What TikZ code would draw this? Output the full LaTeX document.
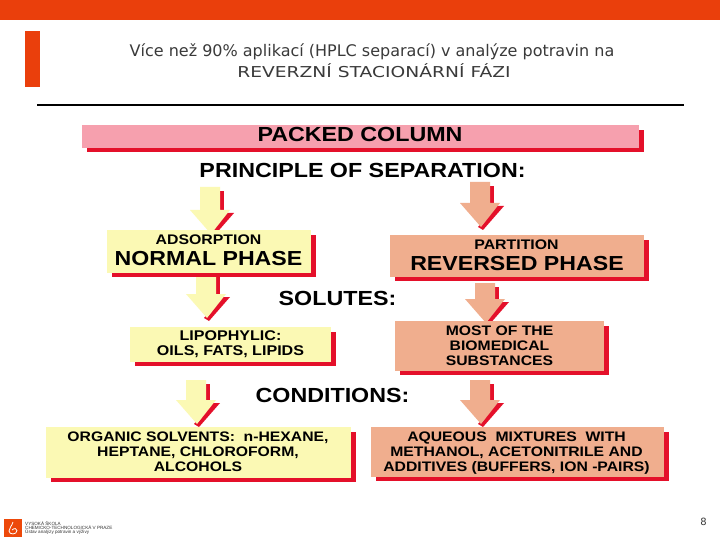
\documentclass[tikz,border=0pt]{standalone}
\usepackage{fontspec}
\setmainfont[FakeStretch=1.14]{Liberation Sans}
\newfontfamily\logofont{Liberation Sans}
\newfontfamily\headfont{DejaVu Sans}
\newfontfamily\headwide[FakeStretch=1.245]{DejaVu Sans}
\definecolor{topred}{HTML}{EA3F0C}
\definecolor{shadowred}{HTML}{E4102A}
\definecolor{pinkfill}{HTML}{F6A0AE}
\definecolor{creamfill}{HTML}{FBF9B4}
\definecolor{salmonfill}{HTML}{F0AE8E}
\definecolor{headgrey}{HTML}{3A3A3A}
\newcommand{\panelbox}[6]{% name, x0, y0, x1, y1, fill
  \fill[shadowred] (#2+5,#3+5) rectangle (#4+5,#5+4);
  \fill[#6] (#2,#3) rectangle (#4,#5);
  \coordinate (#1) at ({(#2+#4)/2},{(#3+#5)/2});
}
\newcommand{\blockarrow}[4]{% shaft left, top, shoulder, fill
  \fill[shadowred] (#1+20,#2+4) rectangle (#1+24,#3);
  \fill[shadowred] (#1+34,#3+3) -- (#1+27,#3+3) -- (#1+8,#3+24) -- (#1+13,#3+27) -- cycle;
  \fill[#4] (#1,#2) -- (#1+20,#2) -- (#1+20,#3) -- (#1+30,#3) -- (#1+11,#3+24) -- (#1-10,#3) -- (#1,#3) -- cycle;
}
\tikzset{
  headtext/.style={font=\headfont\fontsize{16}{18.5}\selectfont,text=headgrey,inner sep=0pt},
  headtextwide/.style={font=\headwide\fontsize{15}{18.5}\selectfont,text=headgrey,inner sep=0pt},
  bigtext/.style={font=\bfseries\fontsize{20.4}{20}\selectfont,inner sep=0pt},
  phasetext/.style={font=\bfseries\fontsize{20.3}{20}\selectfont,inner sep=0pt},
  midtext/.style={font=\bfseries\fontsize{13.8}{15}\selectfont,inner sep=0pt,align=center},
  smalltext/.style={font=\bfseries\fontsize{13.9}{13.2}\selectfont,inner sep=0pt}
}
\begin{document}
\begin{tikzpicture}[x=1pt,y=-1pt]
\useasboundingbox (0,0) rectangle (720,540);
\fill[white] (0,0) rectangle (720,540);
\fill[topred] (0,0) rectangle (720,20);
\fill[topred] (25,31) rectangle (40,87);
\draw[black,line width=2pt] (37,105) -- (684,105);
\node[headtext] (head) at (372,52) {Více než 90\% aplikací (HPLC separací) v analýze potravin na};
\node[headtextwide] (headb) at (374,71) {REVERZNÍ STACIONÁRNÍ FÁZI};
%
\panelbox{pk}{82}{125}{639}{148}{pinkfill}
\node[bigtext] (packed) at (360,134.5) {PACKED COLUMN};
\node[bigtext] (principle) at (362.5,170.5) {PRINCIPLE OF SEPARATION:};
\node[bigtext] (solutes) at (337.5,298.5) {SOLUTES:};
\node[bigtext] (conditions) at (332.5,395) {CONDITIONS:};
%
\blockarrow{200}{187}{210}{creamfill}
\blockarrow{470}{182}{203}{salmonfill}
\blockarrow{196}{273}{294}{creamfill}
\blockarrow{475}{283}{299}{salmonfill}
\blockarrow{186}{380}{400}{creamfill}
\blockarrow{470}{380}{400}{salmonfill}
%
\panelbox{ad}{107}{230}{311}{273}{creamfill}
\node[smalltext] (adsorption) at (208.5,239.5) {ADSORPTION};
\node[phasetext] (normal) at (208.5,258.5) {NORMAL PHASE};
\panelbox{re}{390}{235}{644}{277}{salmonfill}
\node[smalltext] (partition) at (516.5,245) {PARTITION};
\node[phasetext] (reversed) at (517,263.5) {REVERSED PHASE};
%
\panelbox{li}{130}{327}{331}{362}{creamfill}
\node[midtext,font=\bfseries\fontsize{14.1}{15}\selectfont] (lipo) at (230.5,344) {LIPOPHYLIC:\\OILS, FATS, LIPIDS};
\panelbox{mo}{395}{321}{604}{371}{salmonfill}
\node[midtext] (most) at (499.5,346) {MOST OF THE\\BIOMEDICAL\\SUBSTANCES};
\panelbox{or}{46}{427}{351}{478}{creamfill}
\node[midtext] (organic) at (198,452) {ORGANIC SOLVENTS:\ \ n-HEXANE,\\HEPTANE, CHLOROFORM,\\ALCOHOLS};
\panelbox{aq}{371}{427}{664}{477}{salmonfill}
\node[midtext] (aqueous) at (516.5,453.5) {AQUEOUS\ \ MIXTURES\ \ WITH\\METHANOL, ACETONITRILE AND\\ADDITIVES (BUFFERS, ION -PAIRS)};
%
\fill[topred!85!orange] (4,519) rectangle (22,537);
\draw[white,line width=0.8pt] (13,522) .. controls (12,526) and (9,528) .. (9,531) .. controls (9,535) and (17,535) .. (17,530.5) .. controls (17,528) and (14,528) .. (12,530);
\node[font=\logofont\fontsize{4.6}{4.4}\selectfont,align=left,anchor=west,inner sep=0pt,text=black!80] (logo) at (25,528) {VYSOKÁ ŠKOLA\\CHEMICKO-TECHNOLOGICKÁ V PRAZE\\Ústav analýzy potravin a výživy};
\node[font=\headfont\fontsize{10}{10}\selectfont,text=headgrey,inner sep=0pt] (pagenum) at (703.5,522) {8};
\end{tikzpicture}
\end{document}
